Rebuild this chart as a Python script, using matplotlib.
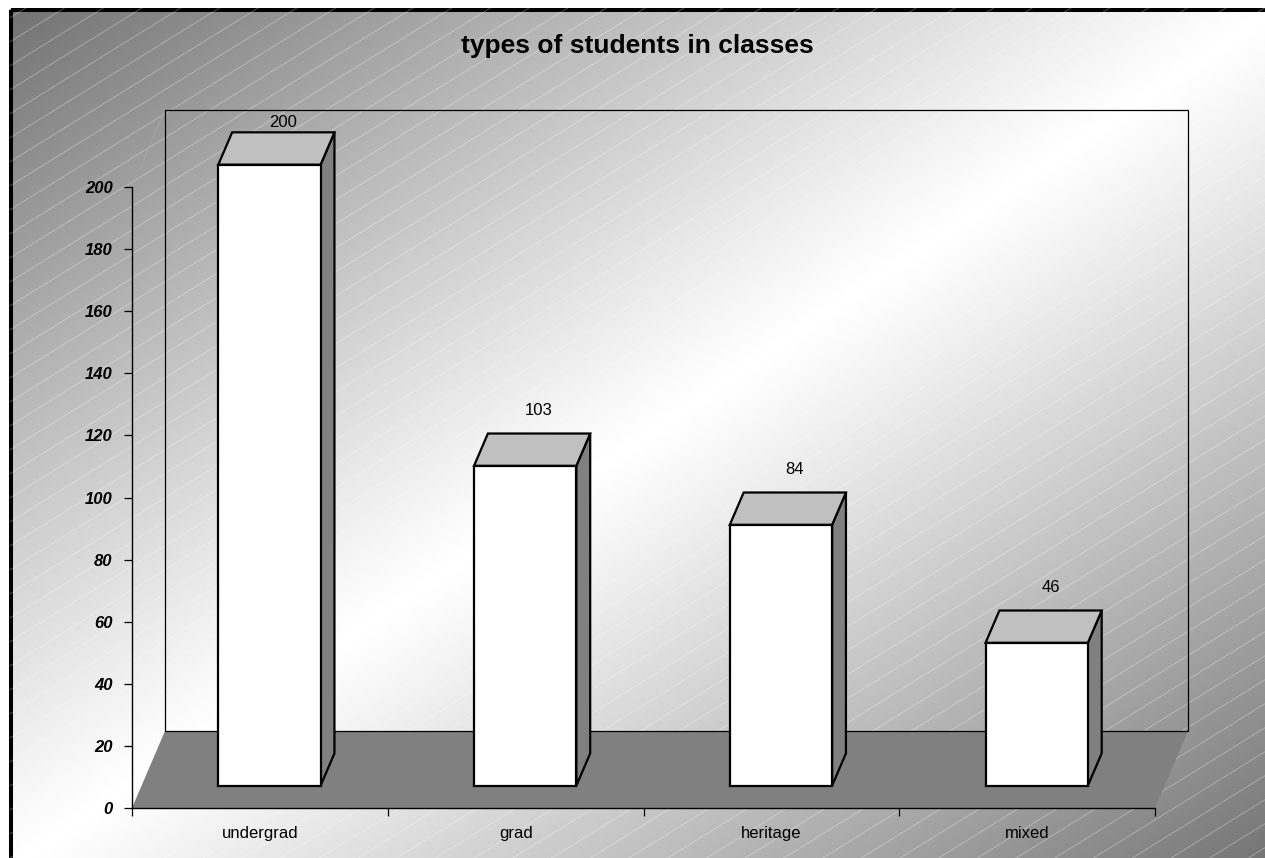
"""Excel-style 3D column chart: types of students in classes."""

import matplotlib

matplotlib.use("Agg")
import matplotlib.pyplot as plt
import numpy as np
from matplotlib.patches import Polygon, Rectangle

categories = ["undergrad", "grad", "heritage", "mixed"]
counts = [200, 103, 84, 46]
y_ticks = [0, 20, 40, 60, 80, 100, 120, 140, 160, 180, 200]
title = "types of students in classes"

W, H, DPI = 1265, 858, 100

# pixel layout of the front plot box
X_LEFT, X_RIGHT = 132, 1155
Y_ZERO, Y_TOP = 808, 187
DEPTH_PX = (33, 77)

plt.rcParams["font.family"] = ["Liberation Sans", "DejaVu Sans"]

fig = plt.figure(figsize=(W / DPI, H / DPI), dpi=DPI)
fig.patch.set_facecolor("white")

# background: diagonal gradient plus thin hatch lines, inside a thick frame
bg = fig.add_axes([0, 0, 1, 1], zorder=-1)
bg.set_xlim(0, W)
bg.set_ylim(H, 0)
bg.axis("off")
gx, gy = np.meshgrid(np.linspace(0, 1, 500), np.linspace(0, 1, 400))
shade = 1 - 0.55 * np.abs(gx + gy - 1) ** 1.1
bg.imshow(shade, cmap="gray", vmin=0, vmax=1, extent=(10, W + 10, H + 10, 9),
          aspect="auto", interpolation="bilinear")
xs = np.array([10, W])
for c in np.arange(0, H + 0.62 * W + 40, 24):
    bg.plot(xs, c - 0.62 * xs, color="white", lw=0.6, alpha=0.35)
bg.add_patch(Rectangle((10.5, 10), W, H, fill=False, ec="black", lw=2.9))

# main axes: category index on x, value on y
ax = fig.add_axes([X_LEFT / W, 1 - Y_ZERO / H,
                   (X_RIGHT - X_LEFT) / W, (Y_ZERO - Y_TOP) / H])
ax.set_xlim(0, len(categories))
ax.set_ylim(0, y_ticks[-1])
ax.patch.set_visible(False)

dx = DEPTH_PX[0] / ((X_RIGHT - X_LEFT) / len(categories))
dy = DEPTH_PX[1] / ((Y_ZERO - Y_TOP) / y_ticks[-1])
n = len(categories)

# floor and back wall
ax.add_patch(Polygon([(0, 0), (n, 0), (n + dx, dy), (dx, dy)],
                     fc="#808080", ec="none", clip_on=False, zorder=1))
ax.add_patch(Rectangle((dx, dy), n, y_ticks[-1], fill=False, ec="black",
                       lw=0.9, clip_on=False, zorder=1.2))
ax.plot([0, dx], [y_ticks[-1], dy + y_ticks[-1]], color="#a8a8a8", lw=0.5,
        clip_on=False, zorder=1.1)

# bars
f1, f2, half = 0.29, 0.71, 0.2
edge = dict(ec="black", lw=1.6, joinstyle="miter", clip_on=False, zorder=3)
for i, value in enumerate(counts):
    xc = i + 0.5
    xl1, xr1 = xc - half + f1 * dx, xc + half + f1 * dx
    xl2, xr2 = xc - half + f2 * dx, xc + half + f2 * dx
    yb1, yb2 = f1 * dy, f2 * dy
    yt1, yt2 = yb1 + value, yb2 + value
    ax.add_patch(Polygon([(xr1, yb1), (xr2, yb2), (xr2, yt2), (xr1, yt1)],
                         fc="#808080", **edge))
    ax.add_patch(Polygon([(xl1, yt1), (xr1, yt1), (xr2, yt2), (xl2, yt2)],
                         fc="#c0c0c0", **edge))
    ax.add_patch(Rectangle((xl1, yb1), xr1 - xl1, value, fc="white", **edge))
    label_y = min(yt2 + 7.5, dy + y_ticks[-1] - 4)
    ax.text((xl2 + xr2) / 2, label_y, str(value), ha="center", va="center",
            fontsize=12, zorder=4)

# axes styling
for side in ("top", "right"):
    ax.spines[side].set_visible(False)
for side in ("left", "bottom"):
    ax.spines[side].set_linewidth(1.0)
    ax.spines[side].set_zorder(2)

ax.set_yticks(y_ticks)
ax.set_yticklabels([str(t) for t in y_ticks])
ax.tick_params(axis="y", direction="out", length=6, width=0.9, pad=8,
               labelsize=12)
for lbl in ax.get_yticklabels():
    lbl.set_fontweight("bold")
    lbl.set_fontstyle("italic")

ax.set_xticks(range(n + 1))
ax.set_xticklabels([])
ax.set_xticks([i + 0.5 for i in range(n)], minor=True)
ax.set_xticklabels(categories, minor=True)
ax.tick_params(axis="x", which="major", direction="out", length=6, width=0.9)
ax.tick_params(axis="x", which="minor", length=0, pad=13, labelsize=12)

fig.text(637 / W, 1 - 46 / H, title, ha="center", va="center",
         fontsize=19, fontweight="bold")

fig.savefig("out.png", dpi=DPI)
